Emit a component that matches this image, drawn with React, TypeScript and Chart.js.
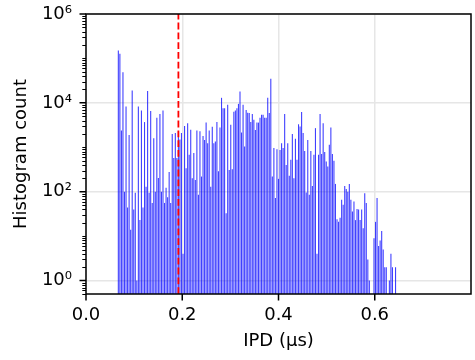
import React, { useEffect, useRef } from "react";
import { Chart, registerables } from "chart.js";

Chart.register(...registerables);

// Histogram bins (centre of first bin and bin width, in µs)
const binStart = 0.0672;
const binWidth = 0.0032;

// Histogram counts per bin (null = empty bin)
const counts: (number | null)[] = [
  150000, 127000, 2400, 49000, 100, 8300, 44, 1900, 14, 19000,
  40, 95, 1, 8300, 23, 6700, 44, 3700, 130, 18600,
  95, 6600, 56, 1600, 100, 4600, 205, 5600, 100, 6700,
  56, 123, 75, 280, 56, 2000, 575, 2100, 575, 2300,
  1500, 2100, 4, 3000, 340, 3500, 680, 2500, 200, 740,
  185, 2400, 86, 2300, 220, 1800, 1470, 3600, 1240, 2400,
  130, 2900, 1240, 1350, 3700, 290, 2800, 13000, 7600, 7600,
  33, 9100, 310, 3200, 320, 6300, 6700, 7600, 9500, 18000,
  2150, 9100, 1040, 6900, 6000, 5900, 3700, 5600, 4150, 2460,
  3600, 3600, 4600, 5400, 5400, 4600, 4600, 13000, 5900, 35000,
  220, 960, 72, 910, 195, 875, 1240, 960, 5600, 400,
  1240, 230, 525, 2000, 200, 1550, 525, 3300, 2950, 6200,
  2100, 830, 96, 1470, 86, 830, 135, 680, 2700, 4,
  680, 5600, 710, 3500, 780, 480, 370, 1140, 2780, 710,
  500, 150, 24, 21, 26, 66, 51, 135, 115, 100,
  150, 66, 36, 60, 23, 41, 40, 23, 40, 15,
  93, 56, 3, 1, null, null, 9, 21, 72, 6,
  8, 13, 5, 2, 2, null, 1, 4, 2, null,
  2,
];

const thresholdX = 0.192;

const xMin = 0;
const xMax = 0.8;
const yMin = 0.5;
const yMax = 1e6;

const xTicks = [0, 0.2, 0.4, 0.6];
const xTickLabels = ["0.0", "0.2", "0.4", "0.6"];
const yTicks = [1, 100, 1e4, 1e6];
const yTickLabels = ["10⁰", "10²", "10⁴", "10⁶"];

const xTitle = "IPD (μs)";
const yTitle = "Histogram count";

const framePlugin = {
  id: "frameTicks",
  afterDraw(chart: any) {
    const { ctx, chartArea: a, scales } = chart;
    ctx.save();
    ctx.strokeStyle = "#000";
    // minor y ticks
    ctx.lineWidth = 1.1;
    ctx.beginPath();
    for (let k = -1; k <= 6; k++) {
      for (let m = 1; m <= 9; m++) {
        const v = m * Math.pow(10, k);
        if (v < yMin || v > yMax) continue;
        if (yTicks.some((t) => Math.abs(t - v) / t < 1e-9)) continue;
        const py = Math.round(scales.y.getPixelForValue(v)) + 0.5;
        ctx.moveTo(a.left, py);
        ctx.lineTo(a.left - 3.7, py);
      }
    }
    ctx.stroke();
    // major ticks
    ctx.lineWidth = 1.5;
    ctx.beginPath();
    for (const v of yTicks) {
      const py = scales.y.getPixelForValue(v);
      ctx.moveTo(a.left, py);
      ctx.lineTo(a.left - 6.5, py);
    }
    for (const v of xTicks) {
      const px = scales.x.getPixelForValue(v);
      ctx.moveTo(px, a.bottom);
      ctx.lineTo(px, a.bottom + 6.5);
    }
    ctx.stroke();
    ctx.strokeRect(a.left, a.top, a.right - a.left, a.bottom - a.top);
    ctx.restore();
  },
};

export default function App() {
  const ref = useRef<HTMLCanvasElement | null>(null);

  useEffect(() => {
    if (!ref.current) return;
    Chart.defaults.font.family = "'DejaVu Sans'";
    Chart.defaults.font.size = 18;
    Chart.defaults.color = "#000";

    const barData = counts
      .map((c, i) => (c == null ? null : { x: binStart + i * binWidth, y: c }))
      .filter((d) => d !== null);

    const chart = new Chart(ref.current, {
      type: "bar",
      data: {
        datasets: [
          {
            type: "line",
            data: [
              { x: thresholdX, y: yMin },
              { x: thresholdX, y: yMax },
            ],
            borderColor: "#ff0000",
            borderWidth: 1.8,
            borderDash: [6.8, 3],
            pointRadius: 0,
            fill: false,
            order: 0,
          } as any,
          {
            type: "bar",
            data: barData as any,
            backgroundColor: "rgba(0,0,255,0.75)",
            borderWidth: 0,
            barThickness: 1.1,
            inflateAmount: 0,
            order: 1,
          } as any,
        ],
      },
      options: {
        responsive: false,
        animation: false,
        layout: { padding: { top: 14, right: 4, left: 0, bottom: 0 } },
        plugins: { legend: { display: false }, tooltip: { enabled: false } },
        scales: {
          x: {
            type: "linear",
            min: xMin,
            max: xMax,
            offset: false,
            grid: { offset: false, color: "#e6e6e6", lineWidth: 1.5, drawTicks: false },
            border: { display: false },
            afterBuildTicks: (s: any) => {
              s.ticks = xTicks.map((v) => ({ value: v }));
            },
            ticks: {
              padding: 11,
              autoSkip: false,
              maxRotation: 0,
              color: "#000",
              font: { size: 18 },
              callback: (_v: any, i: number) => xTickLabels[i],
            },
            title: {
              display: true,
              text: xTitle,
              color: "#000",
              font: { size: 18 },
              padding: { top: 0, bottom: 8 },
            },
            afterFit: (s: any) => {
              s.height = 66;
              s.paddingLeft = 0;
              s.paddingRight = 0;
            },
          } as any,
          y: {
            type: "logarithmic",
            min: yMin,
            max: yMax,
            grid: { color: "#e6e6e6", lineWidth: 1.5, drawTicks: false },
            border: { display: false },
            afterBuildTicks: (s: any) => {
              s.ticks = yTicks.map((v) => ({ value: v }));
            },
            ticks: {
              padding: 14,
              autoSkip: false,
              color: "#000",
              font: { size: 18 },
              callback: (_v: any, i: number) => yTickLabels[i],
            },
            title: {
              display: true,
              text: yTitle,
              color: "#000",
              font: { size: 18 },
              padding: { top: 10.7, bottom: 0 },
            },
            afterFit: (s: any) => {
              s.width = 86;
              s.paddingTop = 0;
              s.paddingBottom = 0;
            },
          } as any,
        },
      },
      plugins: [framePlugin],
    });
    return () => chart.destroy();
  }, []);

  return (
    <div style={{ position: "absolute", left: 0, top: 0, width: 475, height: 360, background: "#fff" }}>
      <canvas ref={ref} width={475} height={360} />
    </div>
  );
}
